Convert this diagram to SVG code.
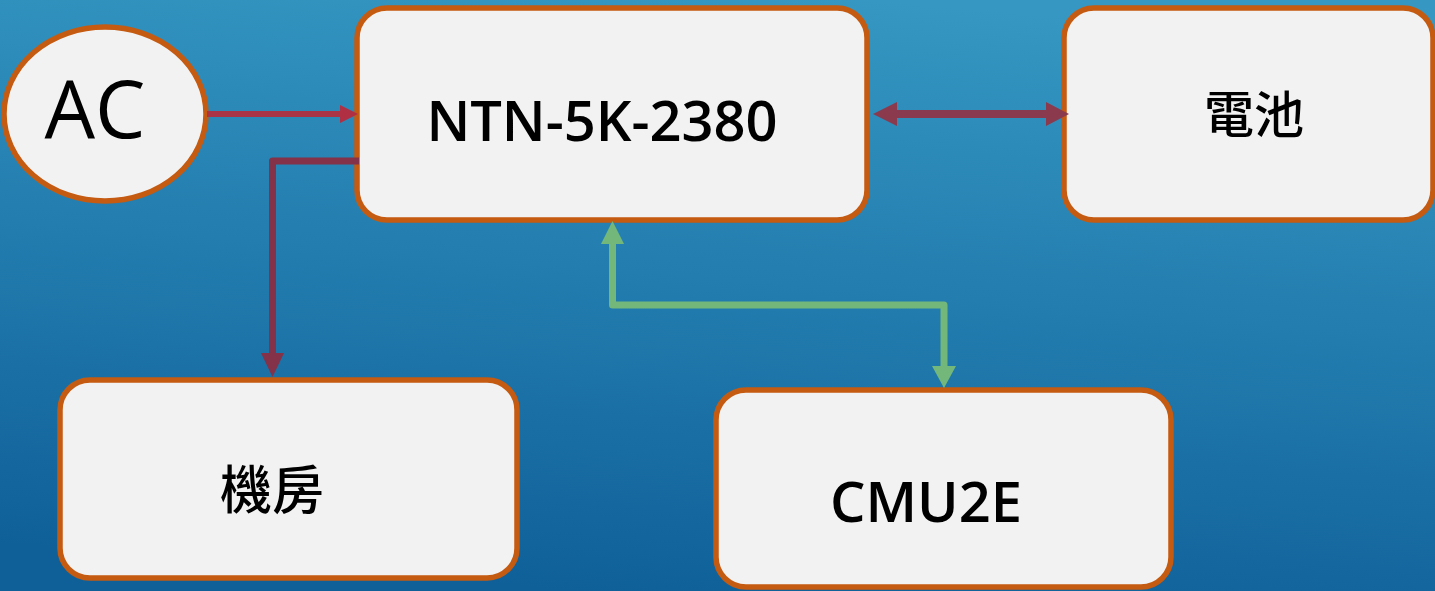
<svg xmlns="http://www.w3.org/2000/svg" width="1435" height="591" viewBox="0 0 1435 591">
  <defs>
    <linearGradient id="bg" x1="0.6" y1="0" x2="0.4" y2="1">
      <stop offset="0" stop-color="#3597C2"/>
      <stop offset="1" stop-color="#0F6099"/>
    </linearGradient>
    <style>
      .node { fill: #F2F2F2; stroke: #C55A11; stroke-width: 5.5; }
      .lbl { font-family: "Open Sans", "Noto Sans", "Noto Sans CJK TC", sans-serif; fill: #000; text-anchor: middle; }
      .red { fill: none; stroke: #A93445; stroke-width: 6; }
      .dark { fill: none; stroke: #843249; stroke-width: 7; stroke-linejoin: round; }
      .bat { fill: none; stroke: #8A3A4E; stroke-width: 8; }
      .green { fill: none; stroke: #74B77A; stroke-width: 7; stroke-linejoin: round; }
    </style>
  </defs>
  <rect x="0" y="0" width="1435" height="591" fill="url(#bg)"/>

  <g id="node-ac">
    <ellipse class="node" cx="105" cy="114" rx="101" ry="87"/>
    <text class="lbl" x="95" y="138" font-size="80" font-weight="400">AC</text>
  </g>
  <g id="node-ntn">
    <rect class="node" x="357" y="8" width="510" height="212" rx="30"/>
    <text class="lbl" x="602" y="141" font-size="56" font-weight="600">NTN-5K-2380</text>
  </g>
  <g id="node-battery">
    <rect class="node" x="1064" y="8" width="369" height="212" rx="30"/>
    <text class="lbl" x="1254" y="133" font-size="50" font-weight="500">電池</text>
  </g>
  <g id="node-room">
    <rect class="node" x="60" y="380" width="457" height="198" rx="30"/>
    <text class="lbl" x="272" y="509" font-size="52" font-weight="500">機房</text>
  </g>
  <g id="node-cmu">
    <rect class="node" x="716" y="390" width="455" height="197" rx="30"/>
    <text class="lbl" x="926" y="522" font-size="56" font-weight="600">CMU2E</text>
  </g>

  <g id="connectors">
    <line class="red" x1="207" y1="114" x2="342" y2="114"/>
    <polygon points="340,105 358,114 340,123" fill="#B02F42"/>

    <path class="dark" d="M359,161 H272.5 V355"/>
    <polygon points="261,353 284,353 272.5,377" fill="#843249"/>

    <line class="bat" x1="893" y1="114" x2="1050" y2="114"/>
    <polygon points="897,102 873,114 897,126" fill="#8B3A4E"/>
    <polygon points="1046,102 1069,114 1046,126" fill="#8B3A4E"/>

    <path class="green" d="M612.5,242 V305 H944 V368"/>
    <polygon points="601,244 624,244 612.5,221" fill="#74B77A"/>
    <polygon points="932,366 956,366 944,388" fill="#74B77A"/>
  </g>
</svg>
